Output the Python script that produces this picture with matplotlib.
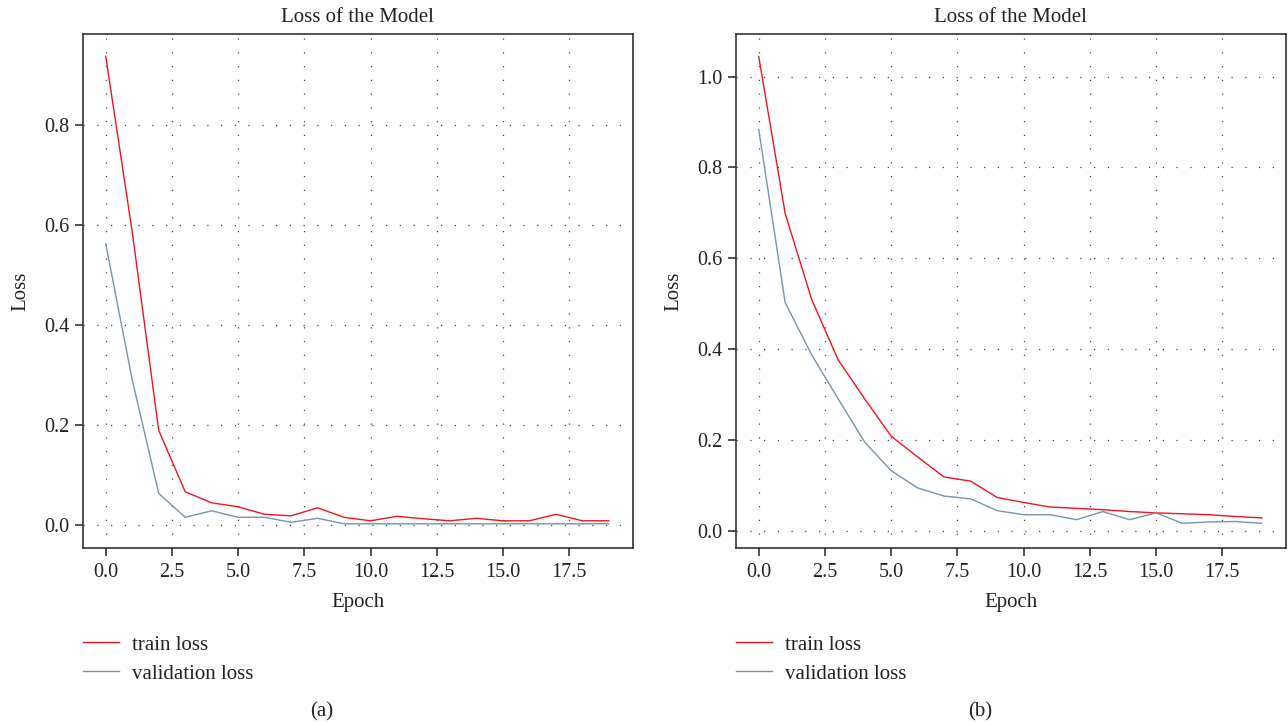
import matplotlib
matplotlib.use("Agg")
import matplotlib.pyplot as plt

plt.rcParams['font.family'] = ['Liberation Serif', 'DejaVu Serif']

epochs = list(range(20))

# panel (a)
train_a = [0.937, 0.586, 0.189, 0.066, 0.044, 0.036, 0.021, 0.018, 0.034, 0.015,
           0.008, 0.017, 0.012, 0.008, 0.013, 0.008, 0.008, 0.021, 0.008, 0.008]
val_a = [0.562, 0.290, 0.063, 0.015, 0.028, 0.015, 0.015, 0.005, 0.013, 0.002,
         0.002, 0.002, 0.002, 0.002, 0.002, 0.002, 0.002, 0.002, 0.002, 0.002]

# panel (b)
train_b = [1.044, 0.698, 0.509, 0.376, 0.290, 0.208, 0.162, 0.118, 0.109, 0.073,
           0.062, 0.052, 0.049, 0.046, 0.042, 0.039, 0.037, 0.035, 0.031, 0.028]
val_b = [0.883, 0.502, 0.387, 0.290, 0.195, 0.132, 0.094, 0.076, 0.070, 0.044,
         0.035, 0.035, 0.024, 0.042, 0.024, 0.039, 0.016, 0.019, 0.020, 0.016]

xticks = [0.0, 2.5, 5.0, 7.5, 10.0, 12.5, 15.0, 17.5]
yticks_a = [0.0, 0.2, 0.4, 0.6, 0.8]
yticks_b = [0.0, 0.2, 0.4, 0.6, 0.8, 1.0]
captions = ['(a)', '(b)']

W, H = 1288, 725
fig = plt.figure(figsize=(W / 100, H / 100), dpi=100)

red = '#f0141e'
blue = '#7595a8'
dark = '#333333'
txt = '#222222'
AX_TOP, AX_BOT, AX_W = 34.3, 548.3, 550.0
AX_H = AX_BOT - AX_TOP


def panel(left_px, train, val, yticks, ylim, caption, cap_x):
    ax = fig.add_axes([left_px / W, (H - AX_BOT) / H, AX_W / W, AX_H / H])
    ax.plot(epochs, train, color=red, lw=1.0, label='train loss', zorder=3)
    ax.plot(epochs, val, color=blue, lw=1.0, label='validation loss', zorder=3)
    ax.set_xlim(-0.87, 19.9)
    ax.set_ylim(*ylim)
    ax.set_xticks(xticks)
    ax.set_xticklabels(['%.1f' % t for t in xticks])
    ax.set_yticks(yticks)
    ax.set_yticklabels(['%.1f' % t for t in yticks])
    ax.grid(True, color='#444444', linestyle=(0, (1, 10)), linewidth=0.9)
    ax.set_axisbelow(True)
    for s in ax.spines.values():
        s.set_color(dark)
        s.set_linewidth(1.2)
    ax.tick_params(direction='out', length=5.5, width=1.2, color=dark,
                   labelsize=14.5, labelcolor=txt)
    ax.tick_params(axis='x', pad=5)
    ax.tick_params(axis='y', pad=4)
    ax.text(0.5, 1 + (AX_TOP - 17) / AX_H, 'Loss of the Model', transform=ax.transAxes,
            ha='center', va='center', fontsize=15, color=txt)
    ax.set_xlabel('Epoch', fontsize=15, color=txt, va='center')
    ax.xaxis.set_label_coords(0.5, -(603 - AX_BOT) / AX_H)
    ax.set_ylabel('Loss', fontsize=15, color=txt, va='center')
    ax.yaxis.set_label_coords(-62.0 / AX_W, 0.5)
    leg = ax.legend(loc='upper left', bbox_to_anchor=(left_px / W, (H - 635) / H),
                    bbox_transform=fig.transFigure, frameon=False, fontsize=15,
                    handlelength=1.75, handletextpad=0.6, labelspacing=0.45,
                    borderpad=0, borderaxespad=0)
    for t in leg.get_texts():
        t.set_color(txt)
    fig.text(cap_x / W, (H - 712) / H, caption, ha='center', va='center',
             fontsize=15, color=txt)
    return ax


panel(82.7, train_a, val_a, yticks_a, (-0.047, 0.981), captions[0], 322)
panel(735.7, train_b, val_b, yticks_b, (-0.039, 1.093), captions[1], 980)

fig.savefig('out.png', dpi=100)
